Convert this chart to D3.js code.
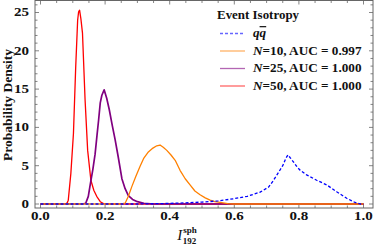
<!DOCTYPE html>
<meta charset="utf-8">
<style>
body { margin: 0; background: #fff; }
svg { display: block; }
text { font-family: "Liberation Serif", "Times New Roman", serif; font-weight: bold; fill: #111; }
.wide { transform-box: fill-box; transform-origin: center; transform: scaleX(1.25); }
.frame { fill: none; stroke: #666; stroke-width: 1; }
.tick { stroke: #666; stroke-width: 0.8; }
</style>
<body>
<svg width="374" height="247"></svg>
<script src="https://d3js.org/d3.v7.min.js"></script>
<script>

// q qbar (dashed blue)
var qqX = [0, 0.3, 0.35, 0.4, 0.45, 0.5, 0.55, 0.6, 0.64, 0.68, 0.706, 0.72, 0.735, 0.75, 0.76, 0.766, 0.772, 0.783, 0.795, 0.804, 0.824, 0.855, 0.886, 0.917, 0.948, 0.974, 0.99, 1.0];
var qqY = [0, 0, 0.03, 0.08, 0.15, 0.25, 0.4, 0.7, 1.0, 1.55, 2.2, 3.0, 4.0, 5.0, 6.0, 6.4, 6.1, 5.5, 4.8, 4.4, 3.8, 3.1, 2.5, 1.6, 0.75, 0.2, 0, 0];

// N=10
var n10X = [0, 0.25, 0.262, 0.272, 0.283, 0.295, 0.308, 0.32, 0.334, 0.348, 0.36, 0.37, 0.38, 0.391, 0.404, 0.417, 0.432, 0.448, 0.463, 0.478, 0.494, 0.51, 0.525, 0.54, 0.556, 0.58, 0.6, 1.0];
var n10Y = [0, 0, 0.1, 1, 2.3, 3.6, 4.9, 6, 6.8, 7.3, 7.6, 7.7, 7.4, 7.0, 6.4, 5.7, 4.4, 3.3, 2.5, 1.7, 1.2, 0.8, 0.5, 0.3, 0.2, 0.05, 0, 0];

// N=25
var n25X = [0, 0.13, 0.14, 0.148, 0.155, 0.162, 0.169, 0.175, 0.18, 0.185, 0.19, 0.197, 0.205, 0.213, 0.222, 0.231, 0.24, 0.252, 0.262, 0.272, 0.285, 0.3, 0.32, 0.35, 1.0];
var n25Y = [0, 0, 0.1, 1, 2.8, 4.5, 6.5, 9, 11, 13.2, 14.2, 14.9, 13.8, 12.3, 10.3, 8.4, 6.3, 3.3, 2, 1.1, 0.6, 0.3, 0.1, 0, 0];

// N=50
var n50X = [0, 0.075, 0.082, 0.086, 0.094, 0.102, 0.109, 0.115, 0.118, 0.121, 0.125, 0.13, 0.138, 0.146, 0.156, 0.165, 0.174, 0.185, 0.195, 0.21, 1.0];
var n50Y = [0, 0, 0.1, 0.5, 4, 9.2, 17.9, 24, 25.1, 25.3, 24.2, 22.3, 13.6, 7, 3.1, 1.8, 1, 0.3, 0.05, 0, 0];

var xTicks = [0, 0.2, 0.4, 0.6, 0.8, 1.0];
var yTicks = [0, 5, 10, 15, 20, 25];

var series = [
  {name: "N=50", label: "=50, AUC = 1.000", xs: n50X, ys: n50Y, color: "#ff0000", width: 1.3, dash: null},
  {name: "N=25", label: "=25, AUC = 1.000", xs: n25X, ys: n25Y, color: "#800080", width: 1.7, dash: null},
  {name: "N=10", label: "=10, AUC = 0.997", xs: n10X, ys: n10Y, color: "#ff8000", width: 1.3, dash: null},
  {name: "qq", label: null, xs: qqX, ys: qqY, color: "#0000ff", width: 1.3, dash: "3,2"}
];

var svg = d3.select("svg");
var L = 35, R = 373, T = 0.5, B = 208;

var x = d3.scaleLinear().domain([0, 1]).range([40.5, 363.5]);
var y = d3.scaleLinear().domain([0, 25]).range([204, 12.5]);

// frame
svg.append("rect").attr("class", "frame")
  .attr("x", L).attr("y", T).attr("width", R - L).attr("height", B - T);

// ticks on all sides, inward
var g = svg.append("g");
d3.range(0, 1.0001, 0.05).forEach(function(v) {
  var major = Math.abs(v * 5 - Math.round(v * 5)) < 1e-6;
  var len = major ? 4 : 2.5;
  g.append("line").attr("class", "tick").attr("x1", x(v)).attr("x2", x(v)).attr("y1", B).attr("y2", B - len);
  g.append("line").attr("class", "tick").attr("x1", x(v)).attr("x2", x(v)).attr("y1", T).attr("y2", T + len);
});
d3.range(0, 27).forEach(function(v) {
  var len = v % 5 === 0 ? 4 : 2.5;
  g.append("line").attr("class", "tick").attr("y1", y(v)).attr("y2", y(v)).attr("x1", L).attr("x2", L + len);
  g.append("line").attr("class", "tick").attr("y1", y(v)).attr("y2", y(v)).attr("x1", R).attr("x2", R - len);
});

// tick labels
xTicks.forEach(function(v) {
  svg.append("text").attr("class", "wide").attr("x", x(v)).attr("y", 220)
    .attr("text-anchor", "middle").style("font-size", "12px").text(d3.format(".1f")(v));
});
yTicks.forEach(function(v) {
  svg.append("text").attr("x", 29).attr("y", y(v) + 4)
    .attr("text-anchor", "end").style("font-size", "12px")
    .attr("transform", "translate(29," + (y(v)) + ") scale(1.25,1) translate(-29," + (-y(v)) + ")")
    .text(v);
});

// curves
var line = d3.line().x(function(d) { return x(d[0]); }).y(function(d) { return y(d[1]); });
series.forEach(function(s) {
  var pts = s.xs.map(function(v, i) { return [v, s.ys[i]]; });
  svg.append("path").datum(pts).attr("d", line)
    .attr("fill", "none").attr("stroke", s.color).attr("stroke-width", s.width)
    .attr("stroke-linejoin", "round")
    .attr("stroke-dasharray", s.dash);
});

// axis titles
svg.append("text").attr("transform", "translate(12,105) rotate(-90)")
  .attr("text-anchor", "middle").style("font-size", "13.5px").text("Probability Density");

var xl = svg.append("text").attr("x", 187).attr("y", 240).attr("text-anchor", "middle").style("font-size", "15px");
xl.append("tspan").style("font-style", "italic").style("font-weight", "normal").text("I");
xl.append("tspan").attr("dx", 1).attr("dy", -7).style("font-size", "9px").text("sph");
xl.append("tspan").attr("dx", -14).attr("dy", 11).style("font-size", "9px").text("192");

// legend
var lg = svg.append("g");
lg.append("text").attr("x", 217).attr("y", 19).style("font-size", "12px")
  .attr("transform", "translate(217,0) scale(1.08,1) translate(-217,0)").text("Event Isotropy");
var legendRows = [series[3], series[2], series[1], series[0]];
legendRows.forEach(function(s, i) {
  var yy = 33.5 + i * 17.5;
  lg.append("line").attr("x1", 220).attr("x2", 245).attr("y1", yy).attr("y2", yy)
    .attr("stroke", s.color).attr("stroke-width", 1.3).attr("stroke-opacity", 0.6)
    .attr("stroke-dasharray", s.dash);
  var t = lg.append("text").attr("x", 253).attr("y", yy + 4).style("font-size", "12px")
    .attr("transform", "translate(253,0) scale(1.1,1) translate(-253,0)");
  if (s.label) {
    t.append("tspan").style("font-style", "italic").text("N");
    t.append("tspan").text(s.label);
  } else {
    t.append("tspan").style("font-style", "italic").text("q");
    t.append("tspan").style("font-style", "italic").style("text-decoration", "overline").text("q");
  }
});
</script>
</body>
